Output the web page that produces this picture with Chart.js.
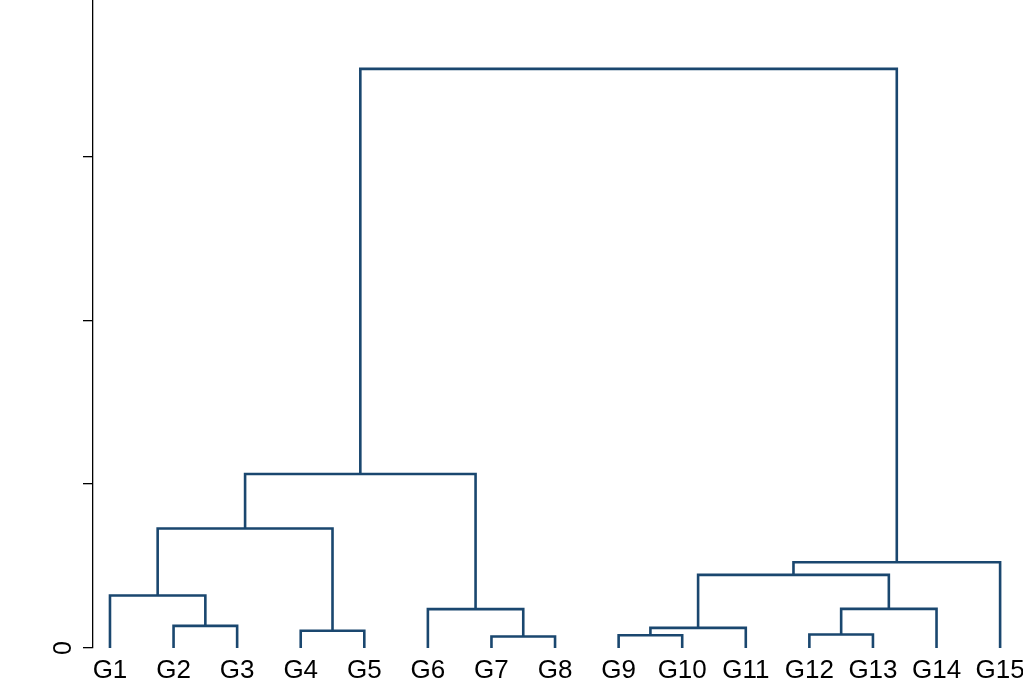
<!DOCTYPE html>
<html>
<head>
<meta charset="utf-8">
<script src="https://cdn.jsdelivr.net/npm/chart.js@4"></script>
<style>
  html, body { margin: 0; padding: 0; background: #fff; }
  #wrap { width: 1023px; height: 692px; }
</style>
</head>
<body>
<div id="wrap"><canvas id="dendro"></canvas></div>
<script>
// hojas (grupos)
const leafLabels = ["G1","G2","G3","G4","G5","G6","G7","G8","G9","G10","G11","G12","G13","G14","G15"];
// uniones: índices 0-14 son hojas, 15+ son los clusters creados en orden
const mergeLeft   = [1, 3, 6, 8, 11, 18, 19, 0, 5, 20, 24, 22, 26, 27];
const mergeRight  = [2, 4, 7, 9, 12, 10, 13, 15, 17, 21, 14, 16, 23, 25];
const mergeHeight = [0.135, 0.105, 0.070, 0.078, 0.082, 0.123, 0.239, 0.320, 0.237, 0.446, 0.523, 0.729, 1.062, 3.534];
const yTicks = [0, 1, 2, 3];

const nodeX = leafLabels.map((_, i) => i + 1);
const nodeH = leafLabels.map(() => 0);
const datasets = [];

mergeLeft.forEach((a, k) => {
  const b = mergeRight[k];
  const h = mergeHeight[k];
  datasets.push({
    data: [
      { x: nodeX[a], y: nodeH[a] },
      { x: nodeX[a], y: h },
      { x: nodeX[b], y: h },
      { x: nodeX[b], y: nodeH[b] }
    ],
    showLine: true,
    borderColor: "#1a476f",
    borderWidth: 2.6,
    pointRadius: 0,
    borderCapStyle: "butt",
    borderJoinStyle: "miter"
  });
  nodeX.push((nodeX[a] + nodeX[b]) / 2);
  nodeH.push(h);
});

Chart.defaults.font.family = "'Liberation Sans', Arial, sans-serif";
Chart.defaults.color = "#000";

new Chart(document.getElementById("dendro"), {
  type: "scatter",
  data: { datasets },
  options: {
    responsive: true,
    maintainAspectRatio: false,
    animation: false,
    layout: { padding: 0 },
    plugins: { legend: { display: false }, tooltip: { enabled: false } },
    scales: {
      x: {
        type: "linear",
        min: 0.733,
        max: 15.36,
        afterBuildTicks: s => { s.ticks = leafLabels.map((_, i) => ({ value: i + 1 })); },
        afterFit: s => { s.height = 44; s.paddingLeft = 0; s.paddingRight = 0; },
        border: { display: false },
        grid: { display: false, drawTicks: false },
        ticks: {
          autoSkip: false,
          maxRotation: 0,
          padding: 7,
          font: { size: 26 },
          callback: v => leafLabels[v - 1]
        }
      },
      y: {
        type: "linear",
        min: 0,
        max: 3.954,
        afterBuildTicks: s => { s.ticks = yTicks.map(v => ({ value: v })); },
        afterFit: s => { s.width = 93; s.paddingTop = 0; s.paddingBottom = 0; },
        border: { display: true, color: "#000", width: 1.3 },
        grid: { drawOnChartArea: false, drawTicks: true, tickLength: 10, color: "#000", lineWidth: 1.3 },
        ticks: {
          minRotation: 90,
          maxRotation: 90,
          padding: 19,
          labelOffset: -7,
          font: { size: 25 },
          callback: v => (v === 0 ? "0" : "")
        }
      }
    }
  }
});
</script>
</body>
</html>
